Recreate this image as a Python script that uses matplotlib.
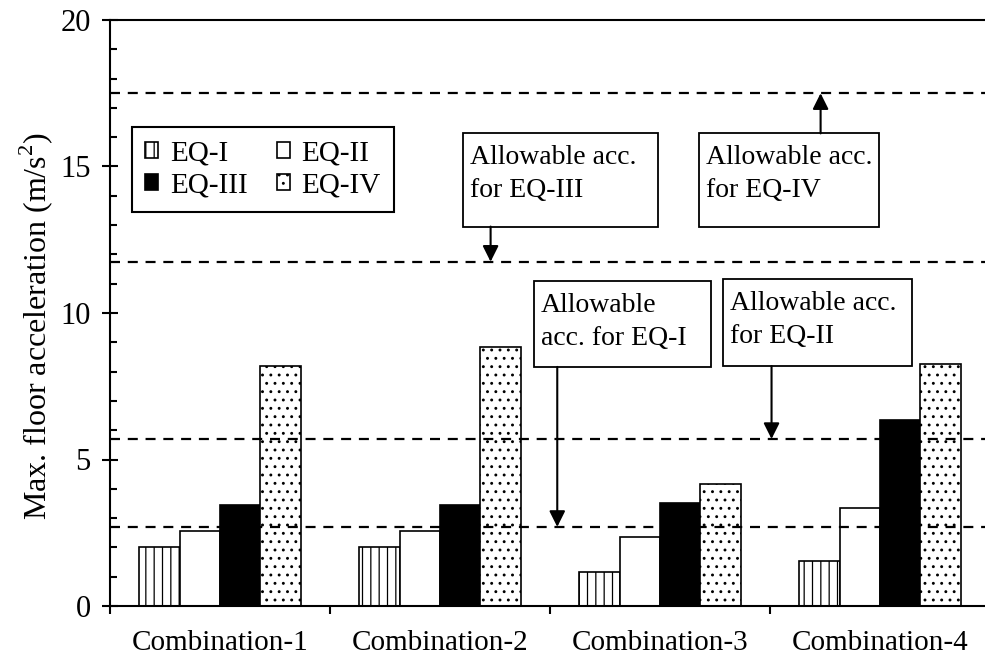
import numpy as np
import matplotlib
matplotlib.use("Agg")
import matplotlib.pyplot as plt
from matplotlib.patches import Rectangle

plt.rcParams['font.family'] = ['Liberation Serif', 'DejaVu Serif']
plt.rcParams['mathtext.fontset'] = 'custom'
plt.rcParams['mathtext.rm'] = 'Liberation Serif'
plt.rcParams['hatch.linewidth'] = 0.9

# data
combos = ['Combination-1', 'Combination-2', 'Combination-3', 'Combination-4']
eq_names = ['EQ-I', 'EQ-II', 'EQ-III', 'EQ-IV']
eq1 = [2.0, 2.0, 1.17, 1.55]
eq2 = [2.55, 2.55, 2.35, 3.33]
eq3 = [3.45, 3.45, 3.5, 6.35]
eq4 = [8.2, 8.85, 4.16, 8.27]
allowable = [2.7, 5.7, 11.75, 17.5]  # EQ-I .. EQ-IV

fig = plt.figure(figsize=(9.85, 6.69), dpi=100)
ax = fig.add_axes([110 / 985, 1 - 606 / 669, 880 / 985, 586 / 669])

x = np.arange(len(combos))
w = 0.183
styles = [dict(color='white', hatch='||'),
          dict(color='white', hatch=''),
          dict(color='black', hatch=''),
          dict(color='white', hatch='..')]
bars = []
for i, (vals, name, st) in enumerate(zip([eq1, eq2, eq3, eq4], eq_names, styles)):
    b = ax.bar(x + (i - 1.5) * w, vals, w, facecolor=st['color'], edgecolor='black',
               hatch=st['hatch'], lw=1.2, label=name, zorder=2)
    bars.append(b)

for a in allowable:
    ax.axhline(a, color='black', lw=1.6, ls=(0, (4.5, 3.5)), zorder=3)


def note(x0, x1, y0, y1, txt, ax_x, y_from, y_to):
    ax.add_patch(Rectangle((x0, y0), x1 - x0, y1 - y0, facecolor='white',
                           edgecolor='black', lw=1.3, zorder=4))
    ax.text(x0 + 0.03, y1 - 0.4, txt, ha='left', va='top', fontsize=20,
            linespacing=1.4, zorder=5)
    ax.annotate('', xy=(ax_x, y_to), xytext=(ax_x, y_from),
                arrowprops=dict(arrowstyle='-|>', color='black', lw=1.5,
                                mutation_scale=24, shrinkA=0, shrinkB=0),
                zorder=5)


note(1.106, 1.993, 12.95, 16.13, 'Allowable acc.\nfor EQ-III', 1.23, 12.95, allowable[2])
note(2.179, 2.997, 12.95, 16.13, 'Allowable acc.\nfor EQ-IV', 2.73, 16.13, allowable[3])
note(1.427, 2.232, 8.16, 11.08, 'Allowable\nacc. for EQ-I', 1.533, 8.16, allowable[0])
note(2.286, 3.145, 8.19, 11.15, 'Allowable acc.\nfor EQ-II', 2.507, 8.19, allowable[1])

ax.set_xlim(-0.5, 3.5)
ax.set_ylim(0, 20)

ax.set_yticks([0, 5, 10, 15, 20])
ax.set_yticks(np.arange(0, 21, 1), minor=True)
ax.tick_params(axis='y', which='major', direction='inout', length=12, width=1.5,
               labelsize=22, pad=8)
ax.tick_params(axis='y', which='minor', direction='in', length=5, width=1.5)

ax.set_xticks([-0.5, 0.5, 1.5, 2.5])
ax.set_xticklabels([])
ax.set_xticks(x, minor=True)
ax.set_xticklabels(combos, minor=True)
ax.tick_params(axis='x', which='major', direction='out', length=6, width=1.5)
ax.tick_params(axis='x', which='minor', length=0, labelsize=21, pad=17)

for s in ['left', 'bottom', 'top']:
    ax.spines[s].set_linewidth(1.5)
ax.spines['right'].set_visible(False)

ax.set_ylabel('Max. floor acceleration (m/s$^{2}$)', fontsize=23)
ax.yaxis.set_label_coords(-0.063, 0.478)

# legend fills row by row: EQ-I, EQ-II / EQ-III, EQ-IV
order = [0, 2, 1, 3]
leg = ax.legend([bars[k] for k in order], [eq_names[k] for k in order],
                ncol=2, loc='upper left', bbox_to_anchor=(132 / 985, 1 - 127 / 669),
                bbox_transform=fig.transFigure, fontsize=21, frameon=True,
                fancybox=False, edgecolor='black', framealpha=1,
                handlelength=0.45, handleheight=0.45, handletextpad=0.4,
                columnspacing=1.0, labelspacing=0.22, borderpad=0.45,
                borderaxespad=0)
leg.get_frame().set_linewidth(1.5)

fig.savefig('out.png', dpi=100)
